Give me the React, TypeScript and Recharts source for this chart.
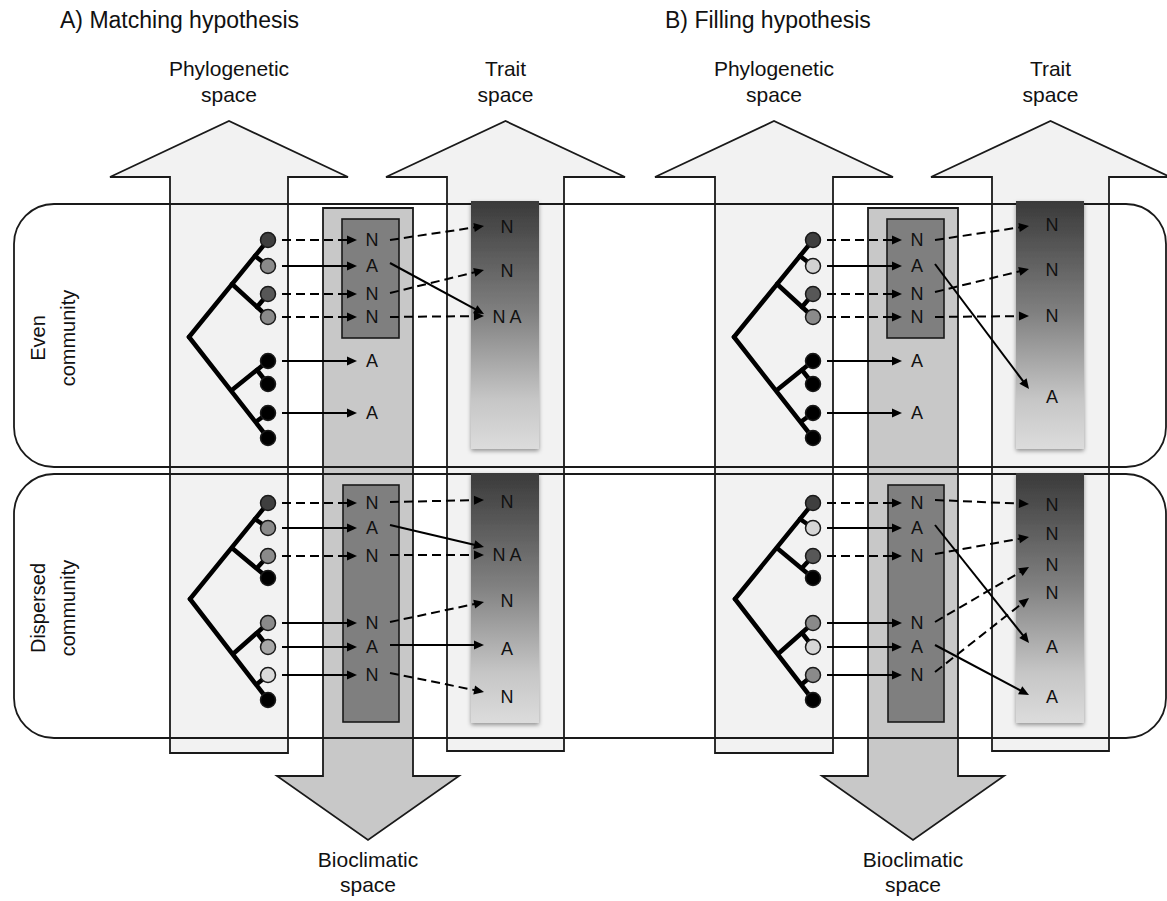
import React from "react";
import { ComposedChart, XAxis, YAxis, ReferenceArea, ReferenceLine, Scatter } from "recharts";

const FONT = '"Liberation Sans", Arial, Helvetica, sans-serif';
const INK = "#1a1a1a";

// panel B repeats the layout of panel A shifted to the right
const panelShift = [0, 545];
const panelTitles = ["A) Matching hypothesis", "B) Filling hypothesis"];
const titleLeft = [60, 665];

// big arrows, panel A coordinates
const upArrows = [
  { shaft: [170, 288], head: [110, 348], base: 753, label: ["Phylogenetic", "space"] },
  { shaft: [447, 564], head: [386, 625], base: 751, label: ["Trait", "space"] },
];
const upNeck = 177;
const upTip = 121;
const bioArrow = { shaft: [323, 413], head: [277, 459], top: 208, neck: 776, tip: 840 };
const bioLabel = ["Bioclimatic", "space"];

// community bands
const communityNames = [["Even", "community"], ["Dispersed", "community"]];
const communityBand = [[204, 467], [474, 738]];
const communityLabelY = [338, 608];
const bioBox = [[342, 399, 219, 338], [343, 399, 485, 722]];
const traitBox = [[471, 539, 201, 449], [471, 539, 473, 723]];

// species tips (y of each of the 8 tips)
const evenTipY = [240, 266, 294, 317, 361, 384, 413, 438];
const dispTipY = [503, 528, 556, 578, 623, 647, 675, 700];
const tipX = 268;

// inner nodes of the tree
const evenTree: Record<string, number[]> = {
  root: [189, 337], a: [232, 284], b: [257, 307], c: [255, 256],
  d: [232, 390], e: [257, 370], f: [257, 421],
};
const dispTree: Record<string, number[]> = {
  root: [190, 599], a: [232, 548], b: [257, 568], c: [255, 519],
  d: [233, 654], e: [257, 633], f: [257, 684],
};
const treeEdges: [string, number][] = [
  ["root", 0], ["a", 3], ["b", 2], ["c", 1],
  ["root", 7], ["d", 4], ["e", 5], ["f", 6],
];

// tip shading
const tipFillAEven = ["#3f3f3f", "#8a8a8a", "#575757", "#8a8a8a", "#000", "#000", "#000", "#000"];
const tipFillADisp = ["#3f3f3f", "#8a8a8a", "#8a8a8a", "#000", "#8a8a8a", "#a8a8a8", "#dadada", "#000"];
const tipFillBEven = ["#3f3f3f", "#d2d2d2", "#575757", "#8a8a8a", "#000", "#000", "#000", "#000"];
const tipFillBDisp = ["#3f3f3f", "#d6d6d6", "#575757", "#000", "#8a8a8a", "#d6d6d6", "#8a8a8a", "#000"];

// letters in the bioclimatic niche column (one per tip, "" = none)
const evenBio = ["N", "A", "N", "N", "A", "", "A", ""];
const dispBio = ["N", "A", "N", "", "N", "A", "N", ""];
// arrow style from tip to bioclimatic letter: 1 dashed, 0 solid, -1 none
const evenTipDash = [1, 0, 1, 1, 0, -1, 0, -1];
const dispTipDash = [1, 0, 1, -1, 0, 0, 0, -1];

// trait space letters
const traitAEven = [{ y: 227, t: "N" }, { y: 271, t: "N" }, { y: 317, t: "NA" }];
const traitADisp = [{ y: 502, t: "N" }, { y: 555, t: "NA" }, { y: 601, t: "N" }, { y: 649, t: "A" }, { y: 697, t: "N" }];
const traitBEven = [{ y: 225, t: "N" }, { y: 270, t: "N" }, { y: 316, t: "N" }, { y: 397, t: "A" }];
const traitBDisp = [{ y: 505, t: "N" }, { y: 534, t: "N" }, { y: 565, t: "N" }, { y: 593, t: "N" }, { y: 647, t: "A" }, { y: 697, t: "A" }];

// links bioclimatic -> trait: [from y, to y, dashed]
const linkAEven = [[240, 226, 1], [263, 314, 0], [293, 270, 1], [317, 316, 1]];
const linkADisp = [[502, 500, 1], [525, 547, 0], [555, 555, 1], [622, 602, 1], [645, 645, 0], [673, 692, 1]];
const linkBEven = [[240, 226, 1], [264, 389, 0], [292, 269, 1], [317, 316, 1]];
const linkBDisp = [[500, 504, 1], [525, 643, 0], [554, 537, 1], [622, 567, 1], [645, 695, 0], [672, 598, 1]];

const tipArrowX = [282, 357];
const bioLetterX = 372;
const traitLinkX = [390, 484];
const traitLetterX = 507;

const communities = [
  { tipsY: evenTipY, tree: evenTree, bio: evenBio, dash: evenTipDash },
  { tipsY: dispTipY, tree: dispTree, bio: dispBio, dash: dispTipDash },
];
const tipFills = [[tipFillAEven, tipFillADisp], [tipFillBEven, tipFillBDisp]];
const traitLetters = [[traitAEven, traitADisp], [traitBEven, traitBDisp]];
const traitLinks = [[linkAEven, linkADisp], [linkBEven, linkBDisp]];

const polygonArea = (key: string, verts: number[][], fill: string) => {
  const xs = verts.map((v) => v[0]);
  const ys = verts.map((v) => v[1]);
  const x1 = Math.min(...xs);
  const x2 = Math.max(...xs);
  const y1 = Math.min(...ys);
  const y2 = Math.max(...ys);
  return (
    <ReferenceArea
      key={key}
      x1={x1}
      x2={x2}
      y1={y1}
      y2={y2}
      ifOverflow="visible"
      shape={(p: any) => {
        const pts = verts
          .map(([vx, vy]) => `${p.x + ((vx - x1) / (x2 - x1)) * p.width},${p.y + ((vy - y1) / (y2 - y1)) * p.height}`)
          .join(" ");
        return <polygon points={pts} fill={fill} stroke={INK} strokeWidth={1.8} />;
      }}
    />
  );
};

const arrowShape = (dashed: boolean) => (p: any) => {
  const { x1, y1, x2, y2 } = p;
  const dx = x2 - x1;
  const dy = y2 - y1;
  const len = Math.hypot(dx, dy) || 1;
  const ux = dx / len;
  const uy = dy / len;
  const hl = 10;
  const hw = 4.5;
  const bx = x2 - ux * hl;
  const by = y2 - uy * hl;
  return (
    <g>
      <line x1={x1} y1={y1} x2={bx + ux * 2} y2={by + uy * 2} stroke="#000" strokeWidth={2}
        strokeDasharray={dashed ? "9 5" : undefined} />
      <polygon points={`${x2},${y2} ${bx - uy * hw},${by + ux * hw} ${bx + uy * hw},${by - ux * hw}`} fill="#000" />
    </g>
  );
};

const textShape = (size: number, anchor: string, color = "#111") => (p: any) => (
  <text x={p.cx} y={p.cy + size * 0.36} textAnchor={anchor} fontFamily={FONT} fontSize={size} fill={color}
    letterSpacing={p.payload.t === "NA" ? 4 : 0}>
    {p.payload.t}
  </text>
);

const rotatedText = (size: number) => (p: any) => (
  <text transform={`translate(${p.cx},${p.cy}) rotate(-90)`} x={0} y={size * 0.36} textAnchor="middle"
    fontFamily={FONT} fontSize={size} fill="#111">
    {p.payload.t}
  </text>
);

export default function App() {
  const shapes: React.ReactNode[] = [];
  const lines: React.ReactNode[] = [];
  const dots: { x: number; y: number; c: string }[] = [];
  const letters: { x: number; y: number; t: string }[] = [];
  const titles: { x: number; y: number; t: string }[] = [];
  const labels: { x: number; y: number; t: string }[] = [];
  const sideLabels: { x: number; y: number; t: string }[] = [];

  panelShift.forEach((s, pi) => {
    titles.push({ x: titleLeft[pi], y: 20, t: panelTitles[pi] });
    upArrows.forEach((a, i) => {
      const mid = (a.head[0] + a.head[1]) / 2 + s;
      shapes.push(
        polygonArea(`up${pi}${i}`, [
          [a.shaft[0] + s, a.base], [a.shaft[0] + s, upNeck], [a.head[0] + s, upNeck], [mid, upTip],
          [a.head[1] + s, upNeck], [a.shaft[1] + s, upNeck], [a.shaft[1] + s, a.base],
        ], "#f2f2f2")
      );
      labels.push({ x: (a.shaft[0] + a.shaft[1]) / 2 + s, y: 68, t: a.label[0] });
      labels.push({ x: (a.shaft[0] + a.shaft[1]) / 2 + s, y: 94, t: a.label[1] });
    });
    const b = bioArrow;
    const bm = (b.head[0] + b.head[1]) / 2 + s;
    shapes.push(
      polygonArea(`bio${pi}`, [
        [b.shaft[0] + s, b.top], [b.shaft[1] + s, b.top], [b.shaft[1] + s, b.neck], [b.head[1] + s, b.neck],
        [bm, b.tip], [b.head[0] + s, b.neck], [b.shaft[0] + s, b.neck],
      ], "#c8c8c8")
    );
    labels.push({ x: bm, y: 859, t: bioLabel[0] });
    labels.push({ x: bm, y: 884, t: bioLabel[1] });
  });

  communityBand.forEach((band, ci) => {
    shapes.push(
      <ReferenceArea key={`band${ci}`} x1={14} x2={1166} y1={band[0]} y2={band[1]} ifOverflow="visible"
        shape={(p: any) => (
          <rect x={p.x} y={p.y} width={p.width} height={p.height} rx={40} fill="none" stroke={INK} strokeWidth={1.8} />
        )}
      />
    );
    sideLabels.push({ x: 38, y: communityLabelY[ci], t: communityNames[ci][0] });
    sideLabels.push({ x: 68, y: communityLabelY[ci], t: communityNames[ci][1] });
  });

  panelShift.forEach((s, pi) => {
    communities.forEach((com, ci) => {
      const bb = bioBox[ci];
      shapes.push(
        <ReferenceArea key={`bb${pi}${ci}`} x1={bb[0] + s} x2={bb[1] + s} y1={bb[2]} y2={bb[3]} ifOverflow="visible"
          shape={(p: any) => (
            <rect x={p.x} y={p.y} width={p.width} height={p.height} fill="#7f7f7f" stroke={INK} strokeWidth={1.6} />
          )}
        />
      );
      const tb = traitBox[ci];
      const id = `${pi}${ci}`;
      shapes.push(
        <ReferenceArea key={`tb${id}`} x1={tb[0] + s} x2={tb[1] + s} y1={tb[2]} y2={tb[3]} ifOverflow="visible"
          shape={(p: any) => (
            <g>
              <defs>
                <linearGradient id={`tg${id}`} x1="0" y1="0" x2="0" y2="1">
                  <stop offset="0" stopColor="#3a3a3a" />
                  <stop offset="0.45" stopColor="#808080" />
                  <stop offset="0.8" stopColor="#c6c6c6" />
                  <stop offset="1" stopColor="#dcdcdc" />
                </linearGradient>
                <filter id={`ts${id}`} x="-20%" y="-5%" width="140%" height="112%">
                  <feDropShadow dx="0" dy="2" stdDeviation="2" floodColor="#000" floodOpacity="0.4" />
                </filter>
              </defs>
              <rect x={p.x} y={p.y} width={p.width} height={p.height} fill={`url(#tg${id})`} filter={`url(#ts${id})`} />
            </g>
          )}
        />
      );

      treeEdges.forEach(([node, ti], ei) => {
        const n = com.tree[node];
        lines.push(
          <ReferenceLine key={`tr${id}${ei}`} ifOverflow="visible"
            segment={[{ x: n[0] + s, y: n[1] }, { x: tipX + s, y: com.tipsY[ti] }]}
            stroke="#000" strokeWidth={4.5} strokeLinecap="round" />
        );
      });

      com.tipsY.forEach((y, ti) => {
        dots.push({ x: tipX + s, y, c: tipFills[pi][ci][ti] });
        if (com.dash[ti] >= 0) {
          lines.push(
            <ReferenceLine key={`ta${id}${ti}`} ifOverflow="visible"
              segment={[{ x: tipArrowX[0] + s, y }, { x: tipArrowX[1] + s, y }]}
              shape={arrowShape(com.dash[ti] === 1)} />
          );
        }
        if (com.bio[ti]) letters.push({ x: bioLetterX + s, y, t: com.bio[ti] });
      });

      traitLinks[pi][ci].forEach(([y1, y2, d], li) => {
        lines.push(
          <ReferenceLine key={`tl${id}${li}`} ifOverflow="visible"
            segment={[{ x: traitLinkX[0] + s, y: y1 }, { x: traitLinkX[1] + s, y: y2 }]}
            shape={arrowShape(d === 1)} />
        );
      });
      traitLetters[pi][ci].forEach((l) => {
        letters.push({ x: traitLetterX + s + (l.t === "NA" ? 2 : 0), y: l.y, t: l.t });
      });
    });
  });

  return (
    <div style={{ position: "absolute", left: 0, top: 0, background: "#fff" }}>
      <ComposedChart width={1167} height={901} margin={{ top: 0, right: 0, bottom: 0, left: 0 }}>
        <XAxis type="number" dataKey="x" domain={[0, 1167]} hide allowDataOverflow />
        <YAxis type="number" dataKey="y" domain={[0, 901]} reversed hide allowDataOverflow />
        {shapes}
        {lines}
        <Scatter data={dots} isAnimationActive={false}
          shape={(p: any) => <circle cx={p.cx} cy={p.cy} r={7.5} fill={p.payload.c} stroke={INK} strokeWidth={1.5} />} />
        <Scatter data={letters} isAnimationActive={false} shape={textShape(18, "middle")} />
        <Scatter data={titles} isAnimationActive={false} shape={textShape(23, "start")} />
        <Scatter data={labels} isAnimationActive={false} shape={textShape(21, "middle")} />
        <Scatter data={sideLabels} isAnimationActive={false} shape={rotatedText(20)} />
      </ComposedChart>
    </div>
  );
}
